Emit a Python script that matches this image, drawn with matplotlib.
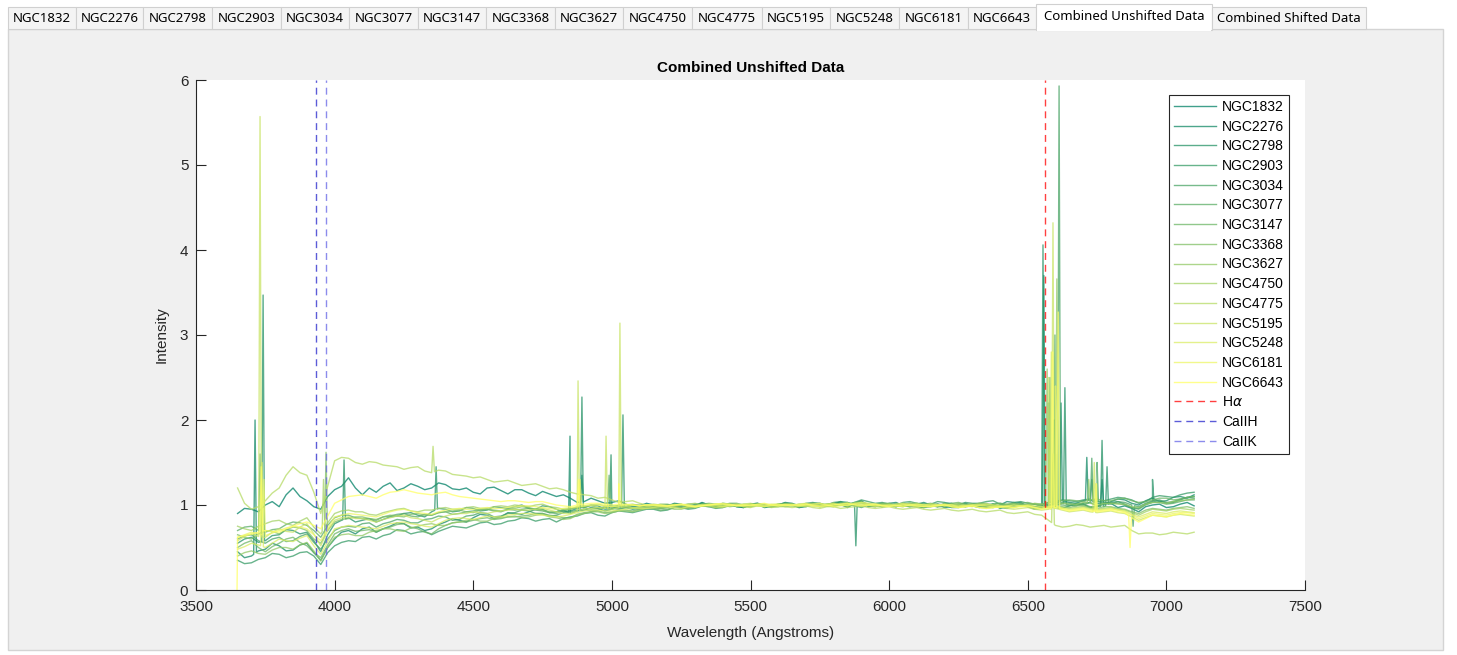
"""
Combined unshifted galaxy spectra, redrawn from the MATLAB app screenshot.
Continua are read off the picture on a 50 A grid (plus the in-between
25 A points); emission / absorption features are listed separately as
(wavelength, peak) pairs.
"""
import numpy as np
import matplotlib.pyplot as plt
from matplotlib.patches import Rectangle

# ---------------------------------------------------------------------------
# Data
# ---------------------------------------------------------------------------
names = ["NGC1832", "NGC2276", "NGC2798", "NGC2903", "NGC3034", "NGC3077",
         "NGC3147", "NGC3368", "NGC3627", "NGC4750", "NGC4775", "NGC5195",
         "NGC5248", "NGC6181", "NGC6643"]

wave = np.arange(3650, 7150, 50)      # 3650 .. 7100
wave_mid = np.arange(3675, 7100, 50)  # 3675 .. 7075

ngc1832 = [0.90, 0.95, 1.00, 0.98, 1.20, 1.05, 0.95, 1.18, 1.32, 1.12,
           1.15, 1.26, 1.20, 1.22, 1.20, 1.24, 1.18, 1.15, 1.20, 1.17,
           1.18, 1.14, 1.16, 1.10, 1.08, 1.04, 1.05, 1.03, 1.01, 0.99,
           1.00, 0.98, 1.01, 0.99, 1.00, 1.02, 0.98, 1.00, 0.97, 1.01,
           1.00, 0.99, 1.02, 1.00, 0.97, 1.04, 1.00, 0.99, 1.01, 0.98,
           1.00, 0.97, 1.01, 0.99, 1.00, 0.96, 1.02, 0.98, 1.00, 0.97,
           0.99, 1.01, 0.98, 1.02, 0.99, 0.92, 1.00, 0.97, 1.01, 0.99]
ngc1832_mid = [0.96, 0.92, 1.04, 1.12, 1.10, 0.98, 1.10, 1.22, 1.20, 1.20,
               1.22, 1.17, 1.25, 1.18, 1.26, 1.19, 1.20, 1.13, 1.21, 1.13,
               1.18, 1.11, 1.13, 1.12, 1.03, 1.08, 1.02, 1.05, 0.98, 1.02,
               0.97, 1.02, 0.97, 1.03, 0.99, 1.01, 0.97, 1.01, 0.98, 1.02,
               0.97, 1.02, 0.99, 1.01, 1.02, 0.98, 1.02, 0.98, 1.01, 0.97,
               1.01, 0.98, 1.02, 0.97, 1.01, 0.99, 1.03, 0.97, 1.01, 0.96,
               1.02, 0.97, 1.03, 0.97, 0.96, 0.98, 1.01, 0.98, 1.03]
ngc2276 = [0.45, 0.40, 0.48, 0.52, 0.47, 0.55, 0.35, 0.60, 0.70, 0.72,
           0.68, 0.75, 0.78, 0.74, 0.72, 0.80, 0.82, 0.85, 0.88, 0.86,
           0.90, 0.92, 0.95, 0.92, 0.90, 0.94, 0.96, 0.95, 0.97, 0.96,
           0.98, 0.97, 1.00, 0.99, 1.01, 0.98, 1.00, 1.01, 0.99, 1.00,
           1.02, 1.00, 0.98, 1.01, 1.03, 0.99, 1.00, 1.02, 0.99, 1.01,
           1.00, 1.02, 0.99, 1.01, 0.98, 1.00, 1.03, 1.00, 0.98, 1.02,
           1.03, 1.05, 1.02, 1.04, 1.06, 1.00, 1.08, 1.05, 1.10, 1.12]
ngc2276_mid = [0.38, 0.46, 0.55, 0.46, 0.53, 0.44, 0.50, 0.68, 0.66, 0.74,
               0.72, 0.79, 0.73, 0.70, 0.77, 0.84, 0.80, 0.89, 0.84, 0.91,
               0.89, 0.95, 0.91, 0.94, 0.93, 0.97, 0.93, 0.98, 0.95, 0.99,
               0.96, 1.01, 0.98, 1.02, 0.97, 1.01, 0.99, 1.02, 0.98, 1.03,
               0.99, 1.01, 0.99, 1.04, 1.00, 1.01, 0.98, 1.03, 0.98, 1.03,
               0.98, 1.02, 0.98, 1.01, 0.97, 1.04, 0.99, 1.01, 0.98, 1.05,
               1.02, 1.06, 1.01, 1.07, 1.02, 1.05, 1.04, 1.09, 1.08]
ngc2798 = [0.55, 0.62, 0.58, 0.65, 0.70, 0.68, 0.45, 0.78, 0.85, 0.82,
           0.80, 0.86, 0.90, 0.88, 0.92, 0.95, 0.93, 0.96, 0.94, 0.97,
           0.98, 0.96, 0.99, 0.95, 0.93, 0.97, 0.99, 0.96, 0.98, 0.97,
           0.99, 1.00, 0.98, 1.01, 0.99, 1.00, 0.98, 1.01, 1.00, 0.99,
           1.01, 0.98, 1.00, 1.02, 0.99, 1.05, 0.98, 1.00, 1.01, 0.99,
           0.98, 1.00, 0.97, 1.01, 0.99, 0.97, 1.00, 0.98, 0.96, 1.00,
           1.00, 1.02, 0.99, 1.03, 1.01, 0.96, 1.04, 1.02, 1.06, 1.08]
ngc2798_mid = [0.60, 0.56, 0.64, 0.71, 0.66, 0.58, 0.65, 0.82, 0.80, 0.84,
               0.83, 0.87, 0.91, 0.86, 0.96, 0.92, 0.97, 0.93, 0.98, 0.96,
               1.00, 0.95, 0.98, 0.92, 0.96, 1.00, 0.95, 1.00, 0.96, 1.00,
               0.98, 1.01, 0.97, 1.02, 0.98, 1.01, 0.97, 1.02, 0.98, 1.02,
               0.97, 1.01, 0.99, 1.03, 1.02, 0.99, 1.01, 0.98, 1.02, 0.97,
               1.01, 0.97, 1.00, 0.98, 1.01, 0.96, 1.01, 0.95, 0.99, 1.02,
               0.99, 1.03, 0.98, 1.04, 0.97, 1.01, 1.05, 1.03, 1.09]
ngc2903 = [0.35, 0.32, 0.38, 0.42, 0.40, 0.45, 0.30, 0.52, 0.58, 0.62,
           0.60, 0.66, 0.70, 0.68, 0.65, 0.72, 0.74, 0.76, 0.80, 0.78,
           0.82, 0.84, 0.83, 0.80, 0.86, 0.90, 0.88, 0.91, 0.92, 0.93,
           0.95, 0.94, 0.97, 0.96, 0.98, 0.97, 0.99, 1.00, 0.98, 1.01,
           1.00, 1.02, 1.01, 1.03, 1.00, 1.06, 1.02, 1.01, 1.03, 1.02,
           1.01, 1.03, 1.00, 1.02, 1.04, 1.01, 1.03, 1.02, 1.00, 1.04,
           1.05, 1.06, 1.04, 1.07, 1.08, 1.02, 1.09, 1.10, 1.12, 1.15]
ngc2903_mid = [0.31, 0.36, 0.43, 0.38, 0.44, 0.40, 0.44, 0.56, 0.57, 0.63,
               0.64, 0.71, 0.66, 0.69, 0.69, 0.75, 0.73, 0.79, 0.77, 0.81,
               0.85, 0.81, 0.84, 0.84, 0.87, 0.91, 0.87, 0.93, 0.91, 0.95,
               0.93, 0.97, 0.95, 0.99, 0.96, 1.00, 0.98, 1.01, 0.99, 1.02,
               0.99, 1.03, 1.00, 1.04, 1.03, 1.04, 1.03, 1.00, 1.04, 1.01,
               1.04, 1.01, 1.03, 1.02, 1.05, 1.00, 1.04, 1.01, 1.03, 1.06,
               1.04, 1.07, 1.05, 1.09, 1.06, 1.04, 1.11, 1.09, 1.14]
ngc3034 = [0.60, 0.65, 0.55, 0.62, 0.58, 0.66, 0.48, 0.70, 0.75, 0.78,
           0.74, 0.80, 0.82, 0.79, 0.84, 0.86, 0.83, 0.88, 0.90, 0.87,
           0.91, 0.93, 0.90, 0.88, 0.92, 0.95, 0.94, 0.96, 0.97, 0.95,
           0.97, 0.98, 0.96, 0.99, 1.00, 0.98, 1.01, 0.99, 0.98, 1.00,
           0.99, 1.01, 1.00, 0.98, 1.02, 0.97, 1.00, 0.99, 1.01, 1.00,
           0.99, 1.01, 0.98, 1.00, 0.97, 1.02, 0.99, 1.00, 0.97, 1.01,
           1.02, 1.00, 1.04, 1.01, 1.03, 0.98, 1.05, 1.03, 1.07, 1.10]
ngc3034_mid = [0.64, 0.58, 0.60, 0.57, 0.63, 0.56, 0.60, 0.74, 0.74, 0.79,
               0.78, 0.83, 0.79, 0.83, 0.87, 0.82, 0.87, 0.91, 0.86, 0.90,
               0.94, 0.90, 0.87, 0.91, 0.94, 0.93, 0.97, 0.95, 0.97, 0.98,
               0.96, 0.99, 0.97, 1.01, 0.98, 1.00, 0.98, 1.01, 0.99, 1.01,
               0.98, 1.02, 0.99, 1.01, 0.99, 1.00, 0.98, 1.02, 0.99, 1.01,
               0.98, 1.01, 0.99, 0.98, 1.01, 1.00, 1.01, 0.98, 1.00, 1.03,
               1.00, 1.03, 1.02, 1.04, 1.00, 1.02, 1.06, 1.04, 1.09]
ngc3077 = [0.70, 0.75, 0.68, 0.72, 0.80, 0.76, 0.62, 0.85, 0.88, 0.84,
           0.82, 0.87, 0.90, 0.86, 0.88, 0.92, 0.90, 0.93, 0.95, 0.92,
           0.94, 0.96, 0.93, 0.90, 0.95, 0.97, 0.96, 0.98, 0.97, 0.99,
           0.98, 1.00, 0.99, 1.01, 0.98, 1.00, 1.02, 0.99, 1.00, 0.98,
           1.01, 0.99, 1.00, 1.02, 0.98, 1.03, 0.99, 1.01, 1.00, 0.98,
           1.00, 0.98, 1.01, 0.99, 1.00, 0.98, 1.01, 0.99, 0.97, 1.00,
           0.99, 1.01, 0.98, 1.02, 1.00, 0.95, 1.03, 1.01, 1.04, 1.06]
ngc3077_mid = [0.74, 0.70, 0.71, 0.77, 0.79, 0.70, 0.76, 0.88, 0.85, 0.84,
               0.86, 0.89, 0.87, 0.89, 0.91, 0.89, 0.92, 0.95, 0.93, 0.95,
               0.95, 0.94, 0.91, 0.93, 0.97, 0.95, 0.98, 0.96, 1.00, 0.97,
               1.00, 0.98, 1.01, 0.99, 0.99, 1.02, 1.00, 1.01, 0.98, 1.00,
               0.99, 1.01, 1.01, 1.00, 1.01, 1.00, 1.01, 0.99, 0.98, 1.00,
               0.98, 1.00, 0.98, 1.01, 0.98, 1.00, 1.01, 0.97, 0.99, 1.00,
               1.01, 0.98, 1.01, 1.02, 0.97, 1.00, 1.03, 1.02, 1.06]
ngc3147 = [0.50, 0.58, 0.45, 0.55, 0.62, 0.52, 0.38, 0.66, 0.72, 0.70,
           0.68, 0.74, 0.78, 0.72, 0.66, 0.76, 0.80, 0.82, 0.85, 0.84,
           0.86, 0.88, 0.90, 0.87, 0.85, 0.91, 0.93, 0.92, 0.94, 0.95,
           0.96, 0.95, 0.98, 0.97, 0.99, 0.98, 1.00, 0.99, 1.01, 1.00,
           1.01, 1.00, 1.02, 0.99, 1.01, 1.04, 1.00, 1.02, 1.01, 1.00,
           1.02, 1.00, 1.03, 1.01, 0.99, 1.02, 1.00, 1.03, 1.01, 1.04,
           1.06, 1.04, 1.07, 1.05, 1.08, 1.03, 1.06, 1.08, 1.07, 1.10]
ngc3147_mid = [0.55, 0.50, 0.51, 0.60, 0.56, 0.44, 0.53, 0.70, 0.69, 0.71,
               0.72, 0.77, 0.74, 0.68, 0.72, 0.79, 0.80, 0.84, 0.83, 0.86,
               0.87, 0.90, 0.88, 0.85, 0.89, 0.92, 0.91, 0.94, 0.93, 0.96,
               0.94, 0.97, 0.96, 0.99, 0.97, 1.00, 0.98, 1.01, 0.99, 1.02,
               0.99, 1.02, 1.00, 1.01, 1.03, 1.01, 1.02, 1.00, 1.02, 1.01,
               1.00, 1.02, 1.01, 1.00, 1.01, 1.01, 1.02, 1.01, 1.03, 1.05,
               1.05, 1.06, 1.05, 1.07, 1.05, 1.04, 1.08, 1.06, 1.09]
ngc3368 = [0.65, 0.60, 0.70, 0.66, 0.74, 0.70, 0.55, 0.80, 0.84, 0.86,
           0.83, 0.88, 0.86, 0.90, 0.88, 0.92, 0.94, 0.91, 0.95, 0.93,
           0.96, 0.97, 0.94, 0.92, 0.96, 0.98, 0.97, 0.99, 0.98, 1.00,
           0.99, 1.01, 1.00, 0.98, 1.02, 1.00, 0.99, 1.01, 0.98, 1.00,
           0.99, 1.01, 0.98, 1.00, 1.03, 0.98, 1.01, 1.00, 0.98, 1.02,
           0.99, 1.01, 0.98, 1.00, 1.02, 0.99, 0.97, 1.01, 0.99, 0.98,
           0.97, 0.99, 0.96, 0.98, 0.95, 0.90, 0.96, 0.94, 0.97, 0.96]
ngc3368_mid = [0.62, 0.66, 0.69, 0.71, 0.73, 0.60, 0.70, 0.83, 0.86, 0.84,
               0.86, 0.87, 0.89, 0.88, 0.91, 0.93, 0.92, 0.94, 0.94, 0.95,
               0.98, 0.95, 0.92, 0.95, 0.97, 0.99, 0.97, 0.99, 1.00, 0.99,
               1.01, 0.99, 0.99, 1.01, 1.01, 0.98, 1.01, 0.99, 1.00, 0.98,
               1.01, 0.99, 1.00, 1.02, 1.00, 1.00, 1.01, 0.99, 1.01, 1.00,
               1.00, 0.99, 0.99, 1.02, 1.00, 0.97, 1.00, 1.01, 0.97, 0.98,
               0.99, 0.97, 0.98, 0.96, 0.92, 0.94, 0.95, 0.96, 0.98]
ngc3627 = [0.40, 0.46, 0.42, 0.50, 0.48, 0.56, 0.34, 0.62, 0.66, 0.64,
           0.70, 0.72, 0.69, 0.75, 0.78, 0.76, 0.80, 0.83, 0.81, 0.85,
           0.87, 0.86, 0.89, 0.85, 0.84, 0.90, 0.92, 0.91, 0.93, 0.94,
           0.96, 0.97, 0.95, 0.98, 0.99, 0.97, 1.00, 0.98, 1.00, 0.99,
           1.00, 1.01, 0.99, 1.02, 1.00, 1.02, 0.99, 1.01, 1.00, 1.02,
           1.01, 0.99, 1.02, 1.00, 1.01, 0.98, 1.02, 1.00, 1.01, 0.99,
           1.01, 1.03, 1.00, 1.02, 1.01, 0.97, 1.03, 1.02, 1.05, 1.07]
ngc3627_mid = [0.44, 0.43, 0.47, 0.50, 0.53, 0.46, 0.50, 0.65, 0.64, 0.68,
               0.72, 0.70, 0.73, 0.77, 0.76, 0.79, 0.82, 0.81, 0.84, 0.86,
               0.85, 0.88, 0.86, 0.83, 0.88, 0.92, 0.90, 0.93, 0.92, 0.96,
               0.96, 0.95, 0.97, 0.99, 0.97, 0.99, 0.98, 1.00, 0.98, 1.01,
               0.99, 1.01, 1.01, 1.00, 1.02, 1.00, 1.01, 0.99, 1.02, 1.00,
               1.01, 1.01, 1.00, 1.02, 0.99, 1.01, 1.00, 1.02, 0.99, 1.02,
               1.01, 1.02, 1.02, 1.01, 0.98, 1.01, 1.03, 1.04, 1.06]
ngc4750 = [0.75, 0.70, 0.78, 0.82, 0.76, 0.85, 0.66, 0.90, 0.94, 0.92,
           0.88, 0.93, 0.96, 0.92, 0.94, 0.97, 0.95, 0.98, 0.96, 0.99,
           1.00, 0.98, 1.01, 0.97, 0.95, 0.99, 1.01, 0.98, 1.00, 0.99,
           1.01, 0.99, 1.00, 1.02, 0.99, 1.01, 1.00, 0.98, 1.01, 0.99,
           1.00, 0.98, 1.01, 0.99, 1.02, 1.00, 0.98, 1.01, 0.99, 1.00,
           0.98, 1.00, 0.99, 1.01, 0.97, 1.00, 0.98, 0.99, 0.96, 0.98,
           0.96, 0.98, 0.95, 0.97, 0.94, 0.88, 0.95, 0.93, 0.96, 0.94]
ngc4750_mid = [0.72, 0.75, 0.81, 0.78, 0.81, 0.74, 0.79, 0.93, 0.92, 0.89,
               0.91, 0.95, 0.93, 0.94, 0.96, 0.95, 0.97, 0.96, 0.98, 0.98,
               0.99, 1.00, 0.98, 0.95, 0.98, 1.00, 0.99, 0.99, 1.01, 1.00,
               1.00, 1.01, 1.01, 1.00, 1.01, 1.01, 0.99, 1.00, 1.00, 0.99,
               0.99, 1.00, 1.00, 1.01, 1.01, 0.99, 1.00, 1.00, 0.99, 0.99,
               0.99, 1.00, 1.00, 0.99, 0.99, 0.99, 0.99, 0.97, 0.97, 0.97,
               0.97, 0.96, 0.96, 0.95, 0.91, 0.92, 0.94, 0.95, 0.95]
ngc4775 = [1.20, 0.95, 1.05, 1.20, 1.45, 1.35, 0.90, 1.52, 1.55, 1.48,
           1.50, 1.46, 1.42, 1.45, 1.38, 1.40, 1.35, 1.32, 1.30, 1.28,
           1.26, 1.24, 1.22, 1.20, 1.15, 1.12, 1.08, 1.06, 1.04, 1.02,
           1.00, 0.98, 1.00, 0.97, 0.99, 0.98, 1.00, 0.97, 0.99, 0.98,
           0.97, 0.99, 0.96, 0.98, 0.97, 0.99, 0.96, 0.98, 0.95, 0.97,
           0.94, 0.96, 0.93, 0.95, 0.92, 0.94, 0.90, 0.92, 0.88, 0.76,
           0.75, 0.76, 0.75, 0.74, 0.76, 0.66, 0.67, 0.66, 0.67, 0.68]
ngc4775_mid = [1.02, 0.98, 1.14, 1.35, 1.38, 1.15, 1.22, 1.56, 1.50, 1.51,
               1.47, 1.45, 1.44, 1.40, 1.41, 1.36, 1.34, 1.33, 1.27, 1.29,
               1.23, 1.25, 1.19, 1.18, 1.13, 1.11, 1.09, 1.03, 1.05, 1.00,
               1.00, 0.99, 0.98, 0.99, 0.97, 0.99, 0.98, 0.99, 0.97, 0.98,
               0.98, 0.97, 0.98, 0.96, 0.98, 0.97, 0.97, 0.96, 0.96, 0.95,
               0.95, 0.94, 0.94, 0.93, 0.93, 0.91, 0.91, 0.89, 0.82, 0.74,
               0.77, 0.74, 0.76, 0.75, 0.70, 0.67, 0.65, 0.68, 0.66]
ngc5195 = [0.58, 0.66, 0.62, 0.72, 0.68, 0.78, 0.52, 0.82, 0.86, 0.84,
           0.80, 0.85, 0.88, 0.84, 0.80, 0.87, 0.90, 0.92, 0.90, 0.93,
           0.95, 0.94, 0.96, 0.92, 0.90, 0.95, 0.97, 0.95, 0.98, 0.97,
           0.99, 0.98, 1.00, 0.99, 1.01, 0.99, 1.00, 1.02, 0.99, 1.00,
           1.01, 0.99, 1.00, 1.02, 0.99, 1.03, 1.00, 0.99, 1.01, 0.98,
           0.99, 1.00, 0.97, 0.99, 0.96, 0.98, 0.95, 0.97, 0.94, 0.96,
           0.92, 0.94, 0.91, 0.93, 0.90, 0.82, 0.88, 0.86, 0.89, 0.87]
ngc5195_mid = [0.63, 0.63, 0.68, 0.69, 0.74, 0.66, 0.70, 0.85, 0.84, 0.82,
               0.83, 0.87, 0.85, 0.82, 0.84, 0.89, 0.90, 0.91, 0.92, 0.94,
               0.94, 0.95, 0.94, 0.90, 0.93, 0.96, 0.96, 0.97, 0.97, 0.98,
               0.98, 0.99, 1.00, 1.00, 1.00, 0.99, 1.01, 1.00, 0.99, 1.01,
               1.00, 0.99, 1.01, 1.00, 1.01, 1.01, 0.99, 1.00, 0.99, 0.98,
               1.00, 0.98, 0.98, 0.97, 0.97, 0.96, 0.96, 0.95, 0.95, 0.94,
               0.93, 0.92, 0.92, 0.91, 0.86, 0.85, 0.87, 0.88, 0.88]
ngc5248 = [0.48, 0.55, 0.50, 0.60, 0.57, 0.64, 0.42, 0.72, 0.76, 0.74,
           0.72, 0.78, 0.80, 0.77, 0.74, 0.82, 0.85, 0.83, 0.87, 0.86,
           0.89, 0.90, 0.88, 0.86, 0.89, 0.93, 0.94, 0.93, 0.95, 0.96,
           0.97, 0.98, 0.96, 0.99, 1.00, 0.98, 1.01, 0.99, 1.00, 1.01,
           1.00, 1.02, 0.99, 1.01, 1.00, 1.03, 1.01, 0.99, 1.02, 1.00,
           1.01, 0.99, 1.00, 0.98, 1.01, 0.99, 0.97, 1.00, 0.98, 0.97,
           0.95, 0.97, 0.94, 0.96, 0.93, 0.86, 0.92, 0.90, 0.93, 0.91]
ngc5248_mid = [0.51, 0.53, 0.55, 0.58, 0.61, 0.52, 0.57, 0.74, 0.75, 0.73,
               0.75, 0.79, 0.78, 0.75, 0.78, 0.84, 0.84, 0.85, 0.86, 0.88,
               0.90, 0.89, 0.87, 0.87, 0.91, 0.94, 0.93, 0.94, 0.96, 0.96,
               0.98, 0.97, 0.98, 1.00, 0.99, 1.00, 1.00, 1.00, 1.01, 1.00,
               1.01, 1.00, 1.00, 1.00, 1.02, 1.02, 1.00, 1.01, 1.01, 1.00,
               1.00, 1.00, 0.99, 1.00, 1.00, 0.98, 0.99, 0.99, 0.97, 0.96,
               0.96, 0.95, 0.95, 0.94, 0.89, 0.89, 0.91, 0.92, 0.92]
ngc6181 = [0.62, 0.68, 0.64, 0.70, 0.75, 0.72, 0.58, 0.86, 0.90, 0.88,
           0.86, 0.92, 0.95, 0.91, 0.89, 0.94, 0.96, 0.95, 0.97, 0.96,
           0.98, 0.99, 0.97, 0.95, 0.97, 0.99, 1.00, 0.98, 1.00, 0.99,
           1.00, 0.99, 1.01, 0.98, 1.00, 1.02, 0.99, 1.00, 0.98, 1.01,
           0.99, 1.00, 1.02, 0.98, 1.00, 1.01, 0.99, 1.00, 0.98, 1.01,
           0.99, 1.01, 0.98, 1.00, 0.99, 0.97, 1.00, 0.98, 0.96, 0.99,
           0.94, 0.96, 0.93, 0.95, 0.92, 0.84, 0.90, 0.88, 0.91, 0.90]
ngc6181_mid = [0.65, 0.66, 0.67, 0.73, 0.74, 0.65, 0.72, 0.88, 0.89, 0.87,
               0.89, 0.94, 0.93, 0.90, 0.92, 0.95, 0.95, 0.96, 0.96, 0.97,
               0.99, 0.98, 0.96, 0.96, 0.98, 1.00, 0.99, 0.99, 1.00, 1.00,
               0.99, 1.00, 1.00, 0.99, 1.01, 1.01, 0.99, 0.99, 1.00, 1.00,
               0.99, 1.01, 1.00, 0.99, 1.01, 1.00, 0.99, 0.99, 1.00, 1.00,
               1.00, 1.00, 0.99, 1.00, 0.98, 0.99, 0.99, 0.97, 0.98, 0.96,
               0.95, 0.94, 0.94, 0.94, 0.88, 0.87, 0.89, 0.90, 0.91]
ngc6643 = [0.62, 0.66, 0.70, 0.68, 0.75, 0.80, 0.72, 1.02, 1.10, 1.12,
           1.08, 1.15, 1.18, 1.14, 1.12, 1.15, 1.10, 1.08, 1.06, 1.04,
           1.05, 1.03, 1.04, 1.00, 0.98, 1.01, 1.02, 1.00, 1.01, 0.99,
           1.00, 0.99, 1.01, 0.98, 1.00, 1.01, 0.99, 1.00, 1.02, 0.99,
           1.00, 1.01, 0.98, 1.00, 1.02, 0.99, 1.01, 0.98, 1.00, 0.99,
           0.98, 1.00, 0.97, 0.99, 0.96, 0.98, 0.97, 0.99, 0.95, 0.97,
           0.93, 0.95, 0.92, 0.94, 0.91, 0.80, 0.88, 0.86, 0.90, 0.88]
ngc6643_mid = [0.64, 0.68, 0.69, 0.72, 0.78, 0.76, 0.87, 1.06, 1.11, 1.10,
               1.12, 1.16, 1.16, 1.13, 1.14, 1.12, 1.09, 1.07, 1.05, 1.05,
               1.04, 1.04, 1.02, 0.99, 1.00, 1.02, 1.01, 1.01, 1.00, 1.00,
               1.00, 1.00, 0.99, 0.99, 1.01, 1.00, 1.00, 1.01, 1.00, 1.00,
               1.00, 0.99, 0.99, 1.01, 1.00, 1.00, 0.99, 0.99, 1.00, 0.98,
               0.99, 0.98, 0.98, 0.97, 0.97, 0.98, 0.98, 0.97, 0.96, 0.95,
               0.94, 0.93, 0.93, 0.92, 0.85, 0.84, 0.87, 0.88, 0.89]
ngc6643_start = (3648, 0.0)  # the yellow spectrum begins at zero

# narrow features: (observed wavelength, intensity at the peak / trough)
features = {
    "NGC1832": [(4892, 1.35), (6595, 2.0), (6768, 1.3)],
    "NGC2276": [(3713, 2.0), (4849, 1.81), (6558, 3.7), (6620, 2.2), (6713, 1.56)],
    "NGC2798": [(3742, 3.47), (4034, 1.53), (4366, 1.45), (4892, 2.27), (4997, 1.59),
                (5040, 2.06), (5880, 0.52), (6555, 4.06), (6634, 2.38), (6768, 1.76),
                (6786, 1.45), (6950, 1.3)],
    "NGC2903": [(6575, 2.2), (6731, 1.3)],
    "NGC3034": [(6598, 3.0), (6613, 5.93), (6731, 1.55), (6750, 1.5), (6880, 0.75)],
    "NGC3077": [(3731, 1.6), (4990, 1.35), (6580, 2.5)],
    "NGC3147": [(6600, 1.6)],
    "NGC3368": [(3969, 1.62), (6590, 1.5)],
    "NGC3627": [(6570, 2.6), (6605, 3.66), (6720, 1.3)],
    "NGC4750": [(3960, 1.3)],
    "NGC4775": [(4355, 1.69), (6591, 1.6)],
    "NGC5195": [(3731, 5.57), (4878, 2.46), (4979, 1.81), (5029, 3.14), (6575, 2.5),
                (6591, 4.32), (6740, 1.5)],
    "NGC5248": [(3738, 1.5), (6585, 2.8), (6745, 1.25)],
    "NGC6181": [(3745, 1.3), (4885, 1.3), (6600, 2.4)],
    "NGC6643": [(3735, 1.45), (4880, 1.3), (5025, 1.25), (6590, 2.8), (6610, 3.27),
                (6748, 1.25), (6869, 0.5)],
}

continua = [ngc1832, ngc2276, ngc2798, ngc2903, ngc3034, ngc3077, ngc3147, ngc3368,
            ngc3627, ngc4750, ngc4775, ngc5195, ngc5248, ngc6181, ngc6643]
continua_mid = [ngc1832_mid, ngc2276_mid, ngc2798_mid, ngc2903_mid, ngc3034_mid,
                ngc3077_mid, ngc3147_mid, ngc3368_mid, ngc3627_mid, ngc4750_mid,
                ngc4775_mid, ngc5195_mid, ngc5248_mid, ngc6181_mid, ngc6643_mid]

ref_lines = [("H$\\alpha$", 6563, (1.0, 0.0, 0.0)),
             ("CaIIH", 3934, (0.15, 0.15, 0.8)),
             ("CaIIK", 3968, (0.4, 0.4, 0.9))]

tab_labels = names + ["Combined Unshifted Data", "Combined Shifted Data"]
tab_edges = [8, 76, 143, 212, 281, 349, 418, 486, 555, 623, 692, 762, 830,
             899, 968, 1036, 1212, 1366]


def build_spectrum(cont, cont_mid, feats, half_width=5):
    """Merge the two continuum grids and put the narrow lines on top."""
    w = np.concatenate([wave, wave_mid])
    v = np.concatenate([cont, cont_mid])
    order = np.argsort(w)
    w, v = w[order], v[order]
    wl, vl = list(w), list(v)
    for fw, fv in feats:
        wl += [fw - half_width, fw, fw + half_width]
        vl += [np.interp(fw - half_width, w, v), fv, np.interp(fw + half_width, w, v)]
    order = np.argsort(wl, kind="stable")
    return np.asarray(wl)[order], np.asarray(vl)[order]


# ---------------------------------------------------------------------------
# Figure + app chrome (tabs and grey panel)
# ---------------------------------------------------------------------------
W, H = 1457, 655
fig = plt.figure(figsize=(W / 100, H / 100), dpi=100, facecolor="white")

bg = fig.add_axes([0, 0, 1, 1])
bg.set_xlim(0, W)
bg.set_ylim(H, 0)
bg.axis("off")
bg.set_zorder(0)

bg.add_patch(Rectangle((8, 29), 1435, 621, facecolor="#f0f0f0", edgecolor="#d4d4d4", lw=1))
for i, label in enumerate(tab_labels):
    x0, x1 = tab_edges[i], tab_edges[i + 1]
    selected = label == "Combined Unshifted Data"
    top = 4 if selected else 7
    bg.add_patch(Rectangle((x0, top), x1 - x0, 29 - top + (1 if selected else 0),
                           facecolor="white" if selected else "#f4f4f4",
                           edgecolor="#d0d0d0", lw=0.8))
    bg.text((x0 + x1) / 2, 17 if selected else 18, label, ha="center", va="center",
            fontsize=9.5, family="Noto Sans", color="black")
# hide the panel border under the selected tab
bg.add_patch(Rectangle((1037, 27), 174, 4, facecolor="white", edgecolor="none"))

# ---------------------------------------------------------------------------
# Main axes
# ---------------------------------------------------------------------------
ax = fig.add_axes([196 / W, 1 - 590 / H, (1305 - 196) / W, (590 - 80) / H])
ax.set_zorder(1)
ax.set_facecolor("white")

colors = plt.cm.summer(np.linspace(0, 1, len(names)))
for name, cont, cont_mid, col in zip(names, continua, continua_mid, colors):
    w, v = build_spectrum(cont, cont_mid, features[name])
    if name == "NGC6643":
        w = np.insert(w, 0, ngc6643_start[0])
        v = np.insert(v, 0, ngc6643_start[1])
    ax.plot(w, v, color=col, alpha=0.75, lw=1.0, label=name)

for label, pos, col in ref_lines:
    ax.axvline(pos, color=col, ls=(0, (5, 3.5)), lw=1.0, alpha=0.75, label=label)

ax.set_xlim(3500, 7500)
ax.set_ylim(0, 6)
ax.set_xticks(np.arange(3500, 7501, 500))
ax.set_yticks(np.arange(0, 7, 1))

font = "Liberation Sans"
for s in ["top", "right"]:
    ax.spines[s].set_visible(False)
for s in ["left", "bottom"]:
    ax.spines[s].set_color("#262626")
    ax.spines[s].set_linewidth(0.8)
ax.tick_params(direction="in", length=7, width=0.8, color="#262626",
               labelsize=11, labelcolor="#262626")
ax.tick_params(axis="x", pad=7)
ax.tick_params(axis="y", pad=5.5)
for lab in ax.get_xticklabels() + ax.get_yticklabels():
    lab.set_family(font)

ax.set_title("Combined Unshifted Data", fontsize=11, fontweight="bold",
             family=font, pad=6)
ax.set_xlabel("Wavelength (Angstroms)", fontsize=11, family=font, color="#262626",
              labelpad=9)
ax.set_ylabel("Intensity", fontsize=11, family=font, color="#262626", labelpad=8)

leg = ax.legend(loc="upper right", bbox_to_anchor=((1289 - 196) / 1109, (590 - 95) / 510),
                borderaxespad=0, fancybox=False, framealpha=1, edgecolor="#262626",
                prop={"family": font, "size": 10}, handlelength=3.0, handletextpad=0.45,
                labelspacing=0.41, borderpad=0.35)
leg.get_frame().set_linewidth(0.8)

fig.savefig("out.png", dpi=100, facecolor=fig.get_facecolor())
